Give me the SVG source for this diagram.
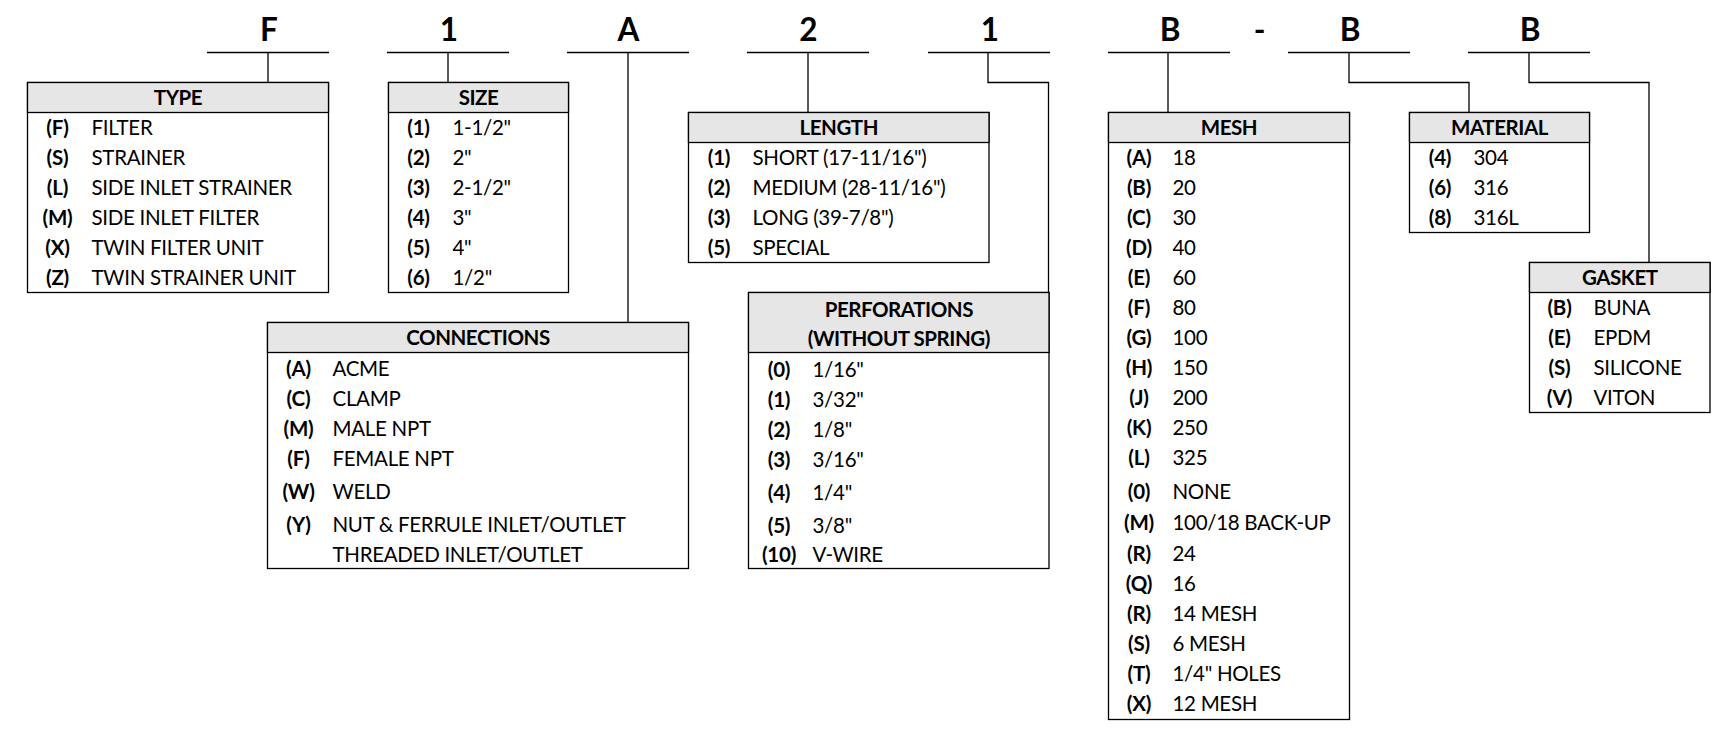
<svg xmlns="http://www.w3.org/2000/svg" width="1734" height="732" viewBox="0 0 1734 732">
<style>
text{font-family:Lato,"Liberation Sans",sans-serif;fill:#000}
.big{font-size:31.5px;font-weight:bold;text-anchor:middle}
.hd{font-size:20.5px;font-weight:bold;text-anchor:middle;letter-spacing:-0.45px}
.cd{font-size:20.5px;font-weight:bold;text-anchor:middle;letter-spacing:-0.2px}
.lb{font-size:20.5px;letter-spacing:-0.3px}
.box{fill:#fff;stroke:#000;stroke-width:1.3}
.hdr{fill:#e6e6e6;stroke:#000;stroke-width:1.3}
.ln{fill:none;stroke:#000;stroke-width:1.3}
</style>
<rect width="1734" height="732" fill="#fff"/>
<g id="code">
<text class="big" x="269" y="40.5">F</text>
<text class="big" x="449" y="40.5">1</text>
<text class="big" x="628.5" y="40.5">A</text>
<text class="big" x="808.5" y="40.5">2</text>
<text class="big" x="990" y="40.5">1</text>
<text class="big" x="1170" y="40.5">B</text>
<text class="big" x="1259.5" y="40.5">-</text>
<text class="big" x="1350" y="40.5">B</text>
<text class="big" x="1530" y="40.5">B</text>
</g>
<g id="connectors" class="ln">
<path class="ln" d="M207 52.5H329M387 52.5H509M567 52.5H689M747 52.5H869M928 52.5H1050M1108 52.5H1230M1288 52.5H1410M1468 52.5H1590"/>
<path class="ln" d="M268 52.5V82.5"/>
<path class="ln" d="M448 52.5V82.5"/>
<path class="ln" d="M628 52.5V322.5"/>
<path class="ln" d="M808 52.5V112.5"/>
<path class="ln" d="M988 52.5V82.5H1048.5V292.5"/>
<path class="ln" d="M1168 52.5V112.5"/>
<path class="ln" d="M1349 52.5V82.5H1469V112.5"/>
<path class="ln" d="M1529 52.5V82.5H1649V262.5"/>
</g>
<g id="type">
<rect class="box" x="27.5" y="82.5" width="301" height="210"/>
<rect class="hdr" x="27.5" y="82.5" width="301" height="30"/>
<text class="hd" x="178" y="105">TYPE</text>
<text class="cd" x="57.5" y="135">(F)</text><text class="lb" x="91.5" y="135">FILTER</text>
<text class="cd" x="57.5" y="165">(S)</text><text class="lb" x="91.5" y="165">STRAINER</text>
<text class="cd" x="57.5" y="195">(L)</text><text class="lb" x="91.5" y="195">SIDE INLET STRAINER</text>
<text class="cd" x="57.5" y="225">(M)</text><text class="lb" x="91.5" y="225">SIDE INLET FILTER</text>
<text class="cd" x="57.5" y="255">(X)</text><text class="lb" x="91.5" y="255">TWIN FILTER UNIT</text>
<text class="cd" x="57.5" y="285">(Z)</text><text class="lb" x="91.5" y="285">TWIN STRAINER UNIT</text>
</g>
<g id="size">
<rect class="box" x="388.5" y="82.5" width="180" height="210"/>
<rect class="hdr" x="388.5" y="82.5" width="180" height="30"/>
<text class="hd" x="478.5" y="105">SIZE</text>
<text class="cd" x="418.5" y="135">(1)</text><text class="lb" x="452.5" y="135">1-1/2"</text>
<text class="cd" x="418.5" y="165">(2)</text><text class="lb" x="452.5" y="165">2"</text>
<text class="cd" x="418.5" y="195">(3)</text><text class="lb" x="452.5" y="195">2-1/2"</text>
<text class="cd" x="418.5" y="225">(4)</text><text class="lb" x="452.5" y="225">3"</text>
<text class="cd" x="418.5" y="255">(5)</text><text class="lb" x="452.5" y="255">4"</text>
<text class="cd" x="418.5" y="285">(6)</text><text class="lb" x="452.5" y="285">1/2"</text>
</g>
<g id="length">
<rect class="box" x="688.5" y="112.5" width="300.5" height="150"/>
<rect class="hdr" x="688.5" y="112.5" width="300.5" height="30"/>
<text class="hd" x="838.8" y="135">LENGTH</text>
<text class="cd" x="719" y="165">(1)</text><text class="lb" x="752.5" y="165">SHORT (17-11/16")</text>
<text class="cd" x="719" y="195">(2)</text><text class="lb" x="752.5" y="195">MEDIUM (28-11/16")</text>
<text class="cd" x="719" y="225">(3)</text><text class="lb" x="752.5" y="225">LONG (39-7/8")</text>
<text class="cd" x="719" y="255">(5)</text><text class="lb" x="752.5" y="255">SPECIAL</text>
</g>
<g id="connections">
<rect class="box" x="267.5" y="322.5" width="421" height="246"/>
<rect class="hdr" x="267.5" y="322.5" width="421" height="30"/>
<text class="hd" x="478" y="345">CONNECTIONS</text>
<text class="cd" x="298.5" y="375.5">(A)</text><text class="lb" x="332.5" y="375.5">ACME</text>
<text class="cd" x="298.5" y="405.5">(C)</text><text class="lb" x="332.5" y="405.5">CLAMP</text>
<text class="cd" x="298.5" y="435.5">(M)</text><text class="lb" x="332.5" y="435.5">MALE NPT</text>
<text class="cd" x="298.5" y="465.5">(F)</text><text class="lb" x="332.5" y="465.5">FEMALE NPT</text>
<text class="cd" x="298.5" y="498.5">(W)</text><text class="lb" x="332.5" y="498.5">WELD</text>
<text class="cd" x="298.5" y="531.5">(Y)</text><text class="lb" x="332.5" y="531.5">NUT &amp; FERRULE INLET/OUTLET</text>
<text class="lb" x="332.5" y="561.5">THREADED INLET/OUTLET</text>
</g>
<g id="perforations">
<rect class="box" x="748.5" y="292.5" width="300.5" height="276"/>
<rect class="hdr" x="748.5" y="292.5" width="300.5" height="60"/>
<text class="hd" x="898.8" y="316.5">PERFORATIONS</text>
<text class="hd" x="898.8" y="346">(WITHOUT SPRING)</text>
<text class="cd" x="779" y="376.5">(0)</text><text class="lb" x="812.5" y="376.5">1/16"</text>
<text class="cd" x="779" y="406.5">(1)</text><text class="lb" x="812.5" y="406.5">3/32"</text>
<text class="cd" x="779" y="436.5">(2)</text><text class="lb" x="812.5" y="436.5">1/8"</text>
<text class="cd" x="779" y="466.5">(3)</text><text class="lb" x="812.5" y="466.5">3/16"</text>
<text class="cd" x="779" y="500">(4)</text><text class="lb" x="812.5" y="500">1/4"</text>
<text class="cd" x="779" y="532.5">(5)</text><text class="lb" x="812.5" y="532.5">3/8"</text>
<text class="cd" x="779" y="561.5">(10)</text><text class="lb" x="812.5" y="561.5">V-WIRE</text>
</g>
<g id="mesh">
<rect class="box" x="1108.5" y="112.5" width="241" height="607"/>
<rect class="hdr" x="1108.5" y="112.5" width="241" height="30"/>
<text class="hd" x="1229" y="135">MESH</text>
<text class="cd" x="1139" y="165">(A)</text><text class="lb" x="1172.5" y="165">18</text>
<text class="cd" x="1139" y="195">(B)</text><text class="lb" x="1172.5" y="195">20</text>
<text class="cd" x="1139" y="225">(C)</text><text class="lb" x="1172.5" y="225">30</text>
<text class="cd" x="1139" y="255">(D)</text><text class="lb" x="1172.5" y="255">40</text>
<text class="cd" x="1139" y="285">(E)</text><text class="lb" x="1172.5" y="285">60</text>
<text class="cd" x="1139" y="315">(F)</text><text class="lb" x="1172.5" y="315">80</text>
<text class="cd" x="1139" y="345">(G)</text><text class="lb" x="1172.5" y="345">100</text>
<text class="cd" x="1139" y="375">(H)</text><text class="lb" x="1172.5" y="375">150</text>
<text class="cd" x="1139" y="405">(J)</text><text class="lb" x="1172.5" y="405">200</text>
<text class="cd" x="1139" y="435">(K)</text><text class="lb" x="1172.5" y="435">250</text>
<text class="cd" x="1139" y="465">(L)</text><text class="lb" x="1172.5" y="465">325</text>
<text class="cd" x="1139" y="498.5">(0)</text><text class="lb" x="1172.5" y="498.5">NONE</text>
<text class="cd" x="1139" y="530">(M)</text><text class="lb" x="1172.5" y="530">100/18 BACK-UP</text>
<text class="cd" x="1139" y="561">(R)</text><text class="lb" x="1172.5" y="561">24</text>
<text class="cd" x="1139" y="591">(Q)</text><text class="lb" x="1172.5" y="591">16</text>
<text class="cd" x="1139" y="621">(R)</text><text class="lb" x="1172.5" y="621">14 MESH</text>
<text class="cd" x="1139" y="651">(S)</text><text class="lb" x="1172.5" y="651">6 MESH</text>
<text class="cd" x="1139" y="681">(T)</text><text class="lb" x="1172.5" y="681">1/4" HOLES</text>
<text class="cd" x="1139" y="711">(X)</text><text class="lb" x="1172.5" y="711">12 MESH</text>
</g>
<g id="material">
<rect class="box" x="1409.5" y="112.5" width="180" height="120"/>
<rect class="hdr" x="1409.5" y="112.5" width="180" height="30"/>
<text class="hd" x="1499.5" y="135">MATERIAL</text>
<text class="cd" x="1440" y="165">(4)</text><text class="lb" x="1473.5" y="165">304</text>
<text class="cd" x="1440" y="195">(6)</text><text class="lb" x="1473.5" y="195">316</text>
<text class="cd" x="1440" y="225">(8)</text><text class="lb" x="1473.5" y="225">316L</text>
</g>
<g id="gasket">
<rect class="box" x="1529.5" y="262.5" width="180.5" height="150"/>
<rect class="hdr" x="1529.5" y="262.5" width="180.5" height="30"/>
<text class="hd" x="1619.8" y="285">GASKET</text>
<text class="cd" x="1559.5" y="315">(B)</text><text class="lb" x="1593.5" y="315">BUNA</text>
<text class="cd" x="1559.5" y="345">(E)</text><text class="lb" x="1593.5" y="345">EPDM</text>
<text class="cd" x="1559.5" y="375">(S)</text><text class="lb" x="1593.5" y="375">SILICONE</text>
<text class="cd" x="1559.5" y="405">(V)</text><text class="lb" x="1593.5" y="405">VITON</text>
</g>
</svg>
